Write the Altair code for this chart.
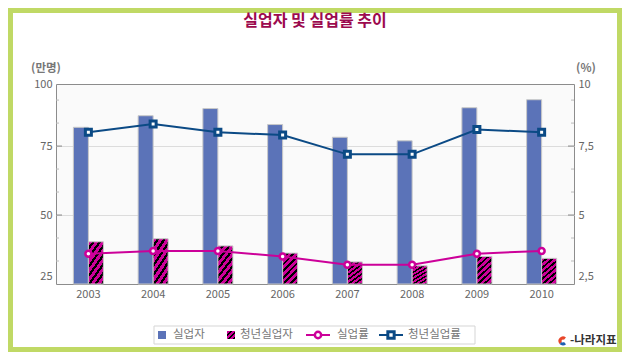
import altair as alt
import pandas as pd

# ---------------- data ----------------
years = ["2003", "2004", "2005", "2006", "2007", "2008", "2009", "2010"]
unemployed = [81.8, 86.0, 88.6, 82.8, 78.2, 76.9, 88.9, 91.8]          # 실업자 (만명)
youth_unemployed = [40.3, 41.4, 38.8, 36.2, 33.0, 31.6, 35.0, 34.3]    # 청년실업자 (만명)
unemp_rate = [3.6, 3.7, 3.7, 3.5, 3.2, 3.2, 3.6, 3.7]                  # 실업률 (%)
youth_rate = [8.0, 8.3, 8.0, 7.9, 7.2, 7.2, 8.1, 8.0]                  # 청년실업률 (%)

left_tick_labels = ["25", "50", "75", "100"]
right_tick_labels = ["2,5", "5", "7,5", "10"]
legend_labels = ["실업자", "청년실업자", "실업률", "청년실업률"]
title_text = "실업자 및 실업률 추이"
left_unit = "(만명)"
right_unit = "(%)"
source_text = "-나라지표"

df = pd.DataFrame({
    "year": years,
    "unemployed": unemployed,
    "youth": youth_unemployed,
    "rate": unemp_rate,
    "yrate": youth_rate,
})

# ---------------- styles ----------------
FONT = "Noto Sans CJK KR"
W, H = 518, 200
PAD = {"left": 48, "top": 76, "right": 48, "bottom": 68}
BLUE = "#5b73b8"
MAG = "#cc0099"
NAVY = "#0b4a85"
GREEN = "#c0d965"
TXT = "#666666"

def stripes(n, x2, y2, frac=0.6):
    stops = []
    for i in range(n):
        a, b, c = i / n, (i + frac) / n, (i + 1) / n
        stops += [alt.GradientStop(color=MAG, offset=a), alt.GradientStop(color=MAG, offset=b),
                  alt.GradientStop(color="#000000", offset=b), alt.GradientStop(color="#000000", offset=c)]
    return alt.LinearGradient(gradient="linear", stops=stops, x1=0, y1=0, x2=x2, y2=y2)

# the reference axis puts its top label "100" at the 97.5 position
left_vals = [25, 50, 75, 97.5]
right_vals = [2.5, 5, 7.5, 9.75]
left_scale = alt.Scale(domain=[25, 97.5], nice=False, zero=False)
right_scale = alt.Scale(domain=[2.5, 9.75], nice=False, zero=False)

left_expr = "datum.value < 30 ? '%s' : datum.value < 60 ? '%s' : datum.value < 90 ? '%s' : '%s'" % tuple(left_tick_labels)
right_expr = "datum.value < 3 ? '%s' : datum.value < 6 ? '%s' : datum.value < 9 ? '%s' : '%s'" % tuple(right_tick_labels)

left_axis = alt.Axis(
    values=left_vals, labelExpr=left_expr, title=None, domain=False, ticks=False,
    grid=True, gridColor="#dcdcdc",
    gridOpacity={"condition": {"test": "datum.value == 50 || datum.value == 75", "value": 1}, "value": 0},
    labelOffset={"condition": {"test": "datum.value < 30", "value": -8}, "value": 0},
    labelPadding=4, labelFontSize=11, labelColor=TXT, labelFont=FONT,
    labelFlush=False, labelOverlap=False,
)
right_axis = alt.Axis(
    orient="right", values=right_vals, labelExpr=right_expr, title=None, domain=False, ticks=False,
    grid=False,
    labelOffset={"condition": {"test": "datum.value < 3", "value": -8}, "value": 0},
    labelPadding=4, labelFontSize=11, labelColor=TXT, labelFont=FONT,
    labelFlush=False, labelOverlap=False,
)
x_enc = alt.X("year:N", scale=alt.Scale(paddingInner=0, paddingOuter=0),
              axis=alt.Axis(title=None, domain=False, ticks=False, labelAngle=0, labelPadding=4,
                            labelFontSize=11, labelColor=TXT, labelFont=FONT, grid=False))

one = alt.Data(values=[{"k": 1}])

# ---------------- left group (bars) ----------------
bars_total = alt.Chart(df).mark_bar(size=15, xOffset=-7.5, fill=BLUE, stroke="#c8c8c8", strokeWidth=1).encode(
    x=x_enc, y=alt.Y("unemployed:Q", scale=left_scale, axis=left_axis), y2=alt.datum(25))
bars_youth = alt.Chart(df).mark_bar(size=15, xOffset=7.5, fill=stripes(7, 0.6, 1.2, 0.58), stroke="#c8c8c8", strokeWidth=1).encode(
    x=x_enc, y=alt.Y("youth:Q", scale=left_scale, axis=left_axis), y2=alt.datum(25))

minor_left = [25 + 25 / 3 * i for i in range(1, 9) if i % 3 != 0]
lmaj = alt.Chart(pd.DataFrame({"v": [50, 75]})).mark_rule(color="#888888", strokeWidth=1).encode(
    y=alt.Y("v:Q", scale=left_scale, axis=left_axis), x=alt.value(0), x2=alt.value(6))
lmin = alt.Chart(pd.DataFrame({"v": minor_left})).mark_rule(color="#bbbbbb", strokeWidth=1).encode(
    y=alt.Y("v:Q", scale=left_scale, axis=left_axis), x=alt.value(0), x2=alt.value(3))
left_group = alt.layer(bars_total, bars_youth, lmaj, lmin)

# ---------------- right group (rates) ----------------
minor_right = [v / 10 for v in minor_left]
rmaj = alt.Chart(pd.DataFrame({"r": [5, 7.5]})).mark_rule(color="#888888", strokeWidth=1).encode(
    y=alt.Y("r:Q", scale=right_scale, axis=right_axis), x=alt.value(W - 6), x2=alt.value(W))
rmin = alt.Chart(pd.DataFrame({"r": minor_right})).mark_rule(color="#bbbbbb", strokeWidth=1).encode(
    y=alt.Y("r:Q", scale=right_scale, axis=right_axis), x=alt.value(W - 3), x2=alt.value(W))
rate_line = alt.Chart(df).mark_line(color=MAG, strokeWidth=2).encode(
    x=x_enc, y=alt.Y("rate:Q", scale=right_scale, axis=right_axis))
rate_pts = alt.Chart(df).mark_point(shape="circle", filled=True, fill="white", stroke=MAG, strokeWidth=2.5,
                                    size=36, opacity=1).encode(
    x=x_enc, y=alt.Y("rate:Q", scale=right_scale, axis=right_axis))
yrate_line = alt.Chart(df).mark_line(color=NAVY, strokeWidth=2).encode(
    x=x_enc, y=alt.Y("yrate:Q", scale=right_scale, axis=right_axis))
yrate_pts = alt.Chart(df).mark_point(shape="square", filled=True, fill="white", stroke=NAVY, strokeWidth=3,
                                     size=36, opacity=1).encode(
    x=x_enc, y=alt.Y("yrate:Q", scale=right_scale, axis=right_axis))
right_group = alt.layer(rmaj, rmin, rate_line, yrate_line, rate_pts, yrate_pts)

# ---------------- decorations (frame, title, units, legend, source) ----------------
def txt(text, x, y, size=11, color=TXT, weight="normal", align="left"):
    return alt.Chart(one).mark_text(text=text, font=FONT, fontSize=size, color=color, fontWeight=weight,
                                    align=align, baseline="middle").encode(x=alt.value(x), y=alt.value(y))

frame = alt.Chart(one).mark_rect(filled=False, stroke=GREEN, strokeWidth=5).encode(
    x=alt.value(-PAD["left"] + 2.5), x2=alt.value(W + PAD["right"] - 2.5),
    y=alt.value(-PAD["top"] + 2.5), y2=alt.value(H + PAD["bottom"] - 2.5))

title = txt(title_text, W / 2, -63, size=16, color="#9c0a4e", weight="bold", align="center")
unit_l = txt(left_unit, -10, -15, size=11.5, color="#777777", weight="bold", align="center")
unit_r = txt(right_unit, W + 12, -15, size=11.5, color="#777777", weight="bold", align="center")

LY = 251
legend_box = alt.Chart(one).mark_rect(fill="white", stroke="#d5d5d5", strokeWidth=1).encode(
    x=alt.value(98), x2=alt.value(419), y=alt.value(LY - 9), y2=alt.value(LY + 9))
lg_blue = alt.Chart(one).mark_rect(fill=BLUE).encode(
    x=alt.value(102), x2=alt.value(110), y=alt.value(LY - 4), y2=alt.value(LY + 4))
lg_hatch = alt.Chart(one).mark_rect(fill=stripes(3, 1, 1, 0.6)).encode(
    x=alt.value(171), x2=alt.value(179), y=alt.value(LY - 4), y2=alt.value(LY + 4))
lg_mline = alt.Chart(one).mark_rule(color=MAG, strokeWidth=2).encode(
    x=alt.value(250), x2=alt.value(274), y=alt.value(LY))
lg_mpt = alt.Chart(one).mark_point(shape="circle", filled=True, fill="white", stroke=MAG, strokeWidth=2.5,
                                   size=40, opacity=1).encode(x=alt.value(262), y=alt.value(LY))
lg_nline = alt.Chart(one).mark_rule(color=NAVY, strokeWidth=2).encode(
    x=alt.value(323), x2=alt.value(347), y=alt.value(LY))
lg_npt = alt.Chart(one).mark_point(shape="square", filled=True, fill="white", stroke=NAVY, strokeWidth=3,
                                   size=40, opacity=1).encode(x=alt.value(335), y=alt.value(LY))
lg_t1 = txt(legend_labels[0], 117, LY, size=11.5, color="#777777")
lg_t2 = txt(legend_labels[1], 184, LY, size=11.5, color="#777777")
lg_t3 = txt(legend_labels[2], 281, LY, size=11.5, color="#777777")
lg_t4 = txt(legend_labels[3], 352, LY, size=11.5, color="#777777")

logo_r = alt.Chart(one).mark_arc(theta=4.0, theta2=7.0, radius=4.5, radius2=1.5, color="#e8462a").encode(
    x=alt.value(507), y=alt.value(257))
logo_b = alt.Chart(one).mark_arc(theta=2.4, theta2=4.0, radius=4.5, radius2=1.5, color="#1d5fb0").encode(
    x=alt.value(507), y=alt.value(257))
logo_t = txt(source_text, 514, 257, size=11.5, color="#333333", weight="bold")

chart = alt.layer(
    left_group, right_group,
    frame, title, unit_l, unit_r,
    legend_box, lg_blue, lg_hatch, lg_mline, lg_mpt, lg_nline, lg_npt, lg_t1, lg_t2, lg_t3, lg_t4,
    logo_r, logo_b, logo_t,
).resolve_scale(y="independent").properties(
    width=W, height=H, padding=PAD, autosize=alt.AutoSizeParams(type="none"), background="white",
).configure_view(stroke="#8c8c8c", strokeWidth=1, fill="#fafafa")

chart.save("out.html", embed_options={"renderer": "svg", "actions": False})
